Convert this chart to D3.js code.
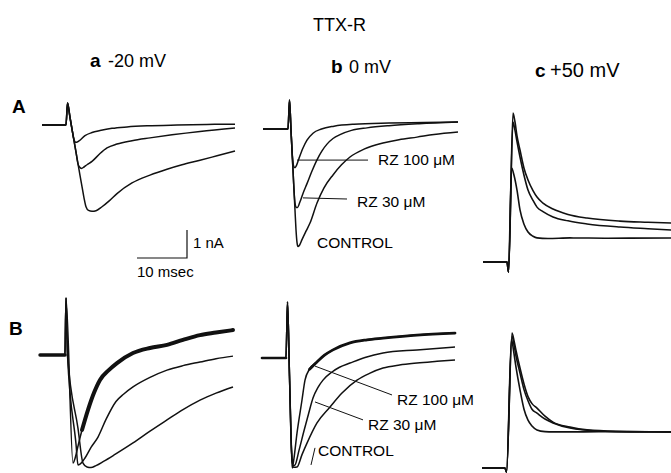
<!DOCTYPE html>
<html lang="en">
<head>
<meta charset="UTF-8">
<title>TTX-R currents</title>
<script src="https://cdn.jsdelivr.net/npm/d3@7"></script>
<style>
  body { margin: 0; background: #fff; }
  svg { font-family: "Liberation Sans", Arial, sans-serif; }
</style>
</head>
<body>
<svg id="chart" width="671" height="473"></svg>
<script>
// traces: [time (ms from step onset), current (nA from holding level)]

// row A, -20 mV
const Aa_rz100 = [[-5,0],[-0.2,0],[0.1,0.79],[0.6,0.27],[1.0,-0.15],[1.3,-0.45],[1.6,-0.6],[1.9,-0.62],[2.4,-0.57],[3.6,-0.38],[5,-0.27],[6.6,-0.2],[9,-0.12],[12,-0.07],[16,-0.03],[22,0],[28,0.02],[33.6,0.03]];
const Aa_rz30 = [[-5,0],[-0.2,0],[0.1,0.79],[0.6,0.27],[1.0,-0.15],[1.8,-0.97],[2.2,-1.39],[2.5,-1.5],[2.9,-1.55],[3.4,-1.5],[4,-1.42],[5,-1.3],[6.6,-1.02],[8,-0.82],[10,-0.68],[13,-0.56],[16.6,-0.46],[21,-0.35],[26.6,-0.23],[33.6,-0.11]];
const Aa_control = [[-5,0],[-0.2,0],[0.1,0.79],[0.6,0.27],[1.0,-0.15],[1.8,-0.97],[2.6,-1.8],[3.0,-2.2],[3.4,-2.6],[3.8,-2.92],[4.3,-3.05],[5,-3.08],[5.8,-3.06],[7,-2.92],[8.5,-2.7],[10,-2.45],[13,-2.07],[16.6,-1.79],[20,-1.58],[23,-1.42],[26.6,-1.26],[30,-1.1],[33.6,-0.93]];

// row A, 0 mV
const Ab_rz100 = [[-5.2,0],[-0.2,0],[0.1,1.04],[0.4,-0.04],[0.6,-0.75],[0.8,-1.2],[1.0,-1.36],[1.2,-1.38],[1.5,-1.3],[2.0,-1.05],[2.8,-0.68],[3.6,-0.4],[4.8,-0.15],[6.5,0],[9,0.1],[13,0.17],[20,0.21],[27,0.23],[33.8,0.25]];
const Ab_rz30 = [[-5.2,0],[-0.2,0],[0.1,1.04],[0.4,-0.04],[0.8,-1.47],[1.0,-2.18],[1.2,-2.65],[1.45,-2.8],[1.7,-2.8],[2.2,-2.6],[2.8,-2.3],[3.6,-1.95],[4.6,-1.5],[5.6,-1.1],[6.6,-0.78],[7.6,-0.54],[8.8,-0.34],[10.2,-0.2],[12.5,-0.05],[15.6,0.04],[20,0.12],[26,0.19],[33.8,0.25]];
const Ab_control = [[-5.2,0],[-0.2,0],[0.1,1.04],[0.4,-0.04],[0.8,-1.47],[1.2,-2.9],[1.4,-3.6],[1.6,-4.05],[1.8,-4.2],[2.1,-4.15],[2.6,-3.95],[3.4,-3.65],[4.2,-3.36],[5.6,-2.64],[7,-2.1],[8.8,-1.64],[10.5,-1.28],[12.2,-1.0],[15,-0.72],[18.8,-0.5],[22,-0.38],[25.6,-0.29],[29,-0.2],[33.8,-0.11]];

// row A, +50 mV
const Ac_t1 = [[-5,0],[-0.2,0],[0.1,-0.36],[1.0,5.32],[1.4,5.0],[1.8,4.5],[2.4,4.0],[3.2,3.35],[4,2.93],[5,2.55],[5.8,2.32],[7,2.1],[9,1.89],[12,1.7],[15.8,1.57],[22.4,1.46],[28,1.42],[33,1.39]];
const Ac_t2 = [[-5,0],[-0.2,0],[0.1,-0.36],[1.0,5.0],[1.4,4.7],[1.8,4.3],[2.4,3.75],[3.2,3.1],[4,2.57],[5,2.2],[5.8,1.96],[7,1.8],[9,1.61],[12,1.47],[15.8,1.36],[22.4,1.25],[28,1.19],[33,1.14]];
const Ac_t3 = [[-5,0],[-0.2,0],[0.1,-0.36],[0.7,3.36],[1.2,3.1],[1.8,2.57],[2.4,1.86],[3.2,1.35],[4,1.07],[5,0.92],[5.8,0.86],[8,0.84],[12.4,0.86],[20,0.85],[33,0.86]];

// row B, -20 mV
const Ba_rz100 = [[-5.2,0],[-0.2,0],[0,2.04],[1.4,-3.86],[1.8,-3.7],[2.4,-3.25],[3.2,-2.68],[4.4,-1.96],[5.6,-1.35],[6.8,-0.89],[8.5,-0.55],[10.2,-0.29],[13.4,0.07],[16.8,0.25],[20.2,0.36],[23.4,0.54],[26.8,0.71],[30,0.8],[33.4,0.89]];
const Ba_rz30 = [[-5.2,0],[-0.2,0],[0,2.04],[0.3,0],[2.0,-3.18],[2.4,-3.93],[2.8,-3.9],[3.8,-3.68],[5,-3.3],[6.4,-2.93],[8,-2.3],[10,-1.66],[11.5,-1.4],[13.4,-1.14],[16.8,-0.8],[20.2,-0.54],[23.4,-0.38],[26.8,-0.25],[30,-0.13],[33.4,-0.04]];
const Ba_control = [[-5.2,0],[-0.2,0],[0,2.04],[0.3,0],[2.4,-2.62],[3.4,-3.86],[4.2,-4.0],[5,-4.02],[6,-3.95],[7.5,-3.8],[9.8,-3.55],[13.4,-3.14],[16.8,-2.72],[20.2,-2.32],[23.4,-1.95],[26.8,-1.61],[30,-1.36],[33.4,-1.14]];

// row B, 0 mV
const Bb_rz100 = [[-5,0],[-0.2,0],[0.1,2.0],[0.5,-0.64],[0.9,-3.3],[1.05,-3.93],[1.3,-3.7],[2.0,-2.68],[3.0,-1.5],[3.6,-0.79],[4.5,-0.4],[6,-0.14],[7.5,0.1],[9.2,0.29],[12.6,0.54],[16,0.65],[19.2,0.71],[26,0.82],[33.6,0.89]];
const Bb_rz30 = [[-5,0],[-0.2,0],[0.1,2.0],[0.5,-0.64],[0.9,-3.3],[1.2,-3.85],[1.6,-3.82],[2.4,-3.3],[3.4,-2.6],[4.3,-2.0],[5.2,-1.43],[6.2,-1.05],[7.2,-0.79],[9,-0.5],[10.5,-0.33],[12.6,-0.18],[15.6,0.02],[19.2,0.18],[26,0.29],[33.6,0.39]];
const Bb_control = [[-5,0],[-0.2,0],[0.1,2.0],[0.5,-0.64],[0.9,-3.3],[1.3,-3.9],[2.0,-3.89],[3.0,-3.45],[4.0,-3.04],[6.0,-2.32],[8.6,-1.75],[11,-1.25],[14,-0.79],[16.5,-0.55],[19.2,-0.36],[22.5,-0.25],[26,-0.18],[30,-0.12],[33.6,-0.07]];

// row B, +50 mV
const Bc_t1 = [[-4.8,0],[-0.2,0],[0.1,-0.15],[1.1,4.6],[1.5,4.2],[2.0,3.6],[2.8,2.79],[3.6,2.1],[4.4,1.71],[5.2,1.5],[6.2,1.36],[7.8,1.3],[9.4,1.29],[15,1.29],[22,1.3],[33,1.29]];
const Bc_t2 = [[-4.8,0],[-0.2,0],[0.1,-0.15],[1.2,4.71],[1.6,4.4],[2.0,4.0],[2.8,3.39],[3.6,2.8],[4.4,2.4],[5.2,2.1],[6.2,1.96],[7.8,1.75],[9.4,1.61],[12.8,1.43],[18.8,1.32],[25,1.29],[33,1.29]];
const Bc_t3 = [[-4.8,0],[-0.2,0],[0.1,-0.15],[1.2,4.82],[1.6,4.55],[2.0,4.2],[2.8,3.57],[3.6,3.0],[4.4,2.55],[5.2,2.3],[6.2,2.14],[7.8,1.85],[9.4,1.64],[12.8,1.46],[16.2,1.36],[22,1.31],[33,1.29]];

const rowLabels = ["A", "B"];
const colLabels = [["a", "-20 mV"], ["b", "0 mV"], ["c", "+50 mV"]];
const title = "TTX-R";

// layout
const pxPerMs = 5, pxPerNa = 28;
const panels = [
  { x0: 67,  y0: 125, traces: [Aa_rz100, Aa_rz30, Aa_control] },
  { x0: 289, y0: 129, traces: [Ab_rz100, Ab_rz30, Ab_control] },
  { x0: 508, y0: 262, traces: [Ac_t1, Ac_t2, Ac_t3], w: 1.6 },
  // noisy: recording noise drawn as a thicker stroke over part of a trace
  { x0: 66,  y0: 355, traces: [Ba_rz100, Ba_rz30, Ba_control],
    noisy: [{ tr: 0, from: -6, to: -0.2, w: 3.4 }, { tr: 0, from: 3.2, to: 40, w: 4 }] },
  { x0: 287, y0: 358, traces: [Bb_rz100, Bb_rz30, Bb_control],
    noisy: [{ tr: 0, from: -6, to: -0.2, w: 2.6 }, { tr: 0, from: 4.5, to: 40, w: 2.8 }] },
  { x0: 506, y0: 468, traces: [Bc_t1, Bc_t2, Bc_t3], w: 1.6 }
];

// annotations in panel units: leader [from, to], text anchor
const notes = [
  { panel: 1, text: "RZ 100 μM", at: [17.8, -1.29], line: [[1.6, -1.11], [15.8, -1.11]] },
  { panel: 1, text: "RZ 30 μM",  at: [13.6, -2.79], line: [[2.8, -2.46], [11.6, -2.5]] },
  { panel: 1, text: "CONTROL",   at: [5.6, -4.25] },
  { panel: 4, text: "RZ 100 μM", at: [22, -1.68],   line: [[5.6, -0.29], [21, -1.32]] },
  { panel: 4, text: "RZ 30 μM",  at: [16.2, -2.57], line: [[5.6, -1.57], [15.2, -2.21]] },
  { panel: 4, text: "CONTROL",   at: [6.2, -3.5],   line: [[4.8, -3.82], [5.6, -3.21]] }
];

const svg = d3.select("#chart");
svg.append("rect").attr("width", 671).attr("height", 473).attr("fill", "#fff");

panels.forEach(p => {
  p.x = d3.scaleLinear().domain([0, 10]).range([p.x0, p.x0 + 10 * pxPerMs]);
  p.y = d3.scaleLinear().domain([0, 1]).range([p.y0, p.y0 - pxPerNa]);
  const line = d3.line()
    .x(d => p.x(d[0]))
    .y(d => p.y(d[1]))
    .curve(d3.curveMonotoneX);
  p.traces.forEach(tr => {
    svg.append("path")
      .attr("d", line(tr))
      .attr("fill", "none")
      .attr("stroke", "#111")
      .attr("stroke-width", p.w || 1.5)
      .attr("stroke-linejoin", "round");
  });
  (p.noisy || []).forEach(n => {
    const seg = p.traces[n.tr].filter(d => d[0] >= n.from && d[0] <= n.to);
    svg.append("path")
      .attr("d", line(seg))
      .attr("fill", "none")
      .attr("stroke", "#111")
      .attr("stroke-width", n.w)
      .attr("stroke-linecap", "round");
  });
});

// labels on the 0 mV panels
notes.forEach(n => {
  const p = panels[n.panel];
  if (n.line) {
    svg.append("line")
      .attr("x1", p.x(n.line[0][0])).attr("y1", p.y(n.line[0][1]))
      .attr("x2", p.x(n.line[1][0])).attr("y2", p.y(n.line[1][1]))
      .attr("stroke", "#111").attr("stroke-width", 1);
  }
  svg.append("text")
    .attr("x", p.x(n.at[0])).attr("y", p.y(n.at[1]))
    .attr("font-size", 15.5)
    .text(n.text);
});

// scale bar under panel Aa: 10 msec, 1 nA
const sb = panels[0];
const sbT = 24, sbI = -4.75;
svg.append("path")
  .attr("d", `M${sb.x(sbT - 10)},${sb.y(sbI)}H${sb.x(sbT)}V${sb.y(sbI + 1)}`)
  .attr("fill", "none").attr("stroke", "#111").attr("stroke-width", 1.2);
svg.append("text").attr("x", sb.x(sbT) + 6).attr("y", sb.y(sbI + 0.35))
  .attr("font-size", 15).text("1 nA");
svg.append("text").attr("x", sb.x(sbT - 10)).attr("y", sb.y(sbI) + 19)
  .attr("font-size", 15).text("10 msec");

// headings
svg.append("text").attr("x", 313).attr("y", 31).attr("font-size", 18).text(title);

const colPos = [[90, 108, 67, 18], [331, 349, 73, 18], [535, 550, 77, 20]];
colLabels.forEach((c, i) => {
  svg.append("text").attr("x", colPos[i][0]).attr("y", colPos[i][2])
    .attr("font-size", 19).attr("font-weight", "bold").text(c[0]);
  svg.append("text").attr("x", colPos[i][1]).attr("y", colPos[i][2])
    .attr("font-size", colPos[i][3]).text(c[1]);
});

const rowPos = [[12, 113], [9, 335]];
rowLabels.forEach((r, i) => {
  svg.append("text").attr("x", rowPos[i][0]).attr("y", rowPos[i][1])
    .attr("font-size", 19).attr("font-weight", "bold").text(r);
});
</script>
</body>
</html>
